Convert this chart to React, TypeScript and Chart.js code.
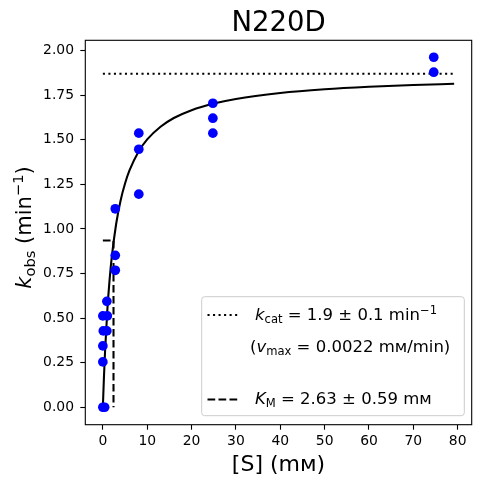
import React, { useEffect, useRef } from "react";
import { Chart, registerables } from "chart.js";

Chart.register(...registerables);

// ---- data ----
const substrateMM = [0, 0.4, 0, 0, 0.1, 0.9, 0, 1.0, 0.9, 2.8, 2.8, 2.8, 8.1, 8.1, 8.1, 24.8, 24.8, 24.8, 74.6, 74.6];
const kobsPerMin = [0, 0, 0.254, 0.344, 0.428, 0.428, 0.512, 0.512, 0.594, 0.768, 0.852, 1.113, 1.195, 1.447, 1.537, 1.537, 1.621, 1.705, 1.879, 1.963];

const fitSubstrateMM = [0, 0.25, 0.5, 1, 1.5, 2, 3, 4, 5, 6, 8, 10, 13, 16, 20, 25, 30, 40, 50, 60, 70, 79.2];
const fitKobs = [0, 0.173, 0.317, 0.542, 0.71, 0.84, 1.029, 1.16, 1.255, 1.328, 1.432, 1.502, 1.573, 1.622, 1.666, 1.703, 1.729, 1.762, 1.783, 1.797, 1.807, 1.814];

const kcatLevel = 1.87;
const halfKcatLevel = 0.935;
const kmMarkerMM = 2.4;
const lineStartMM = 0;
const lineEndMM = 79.2;

const xTickValues = [0, 10, 20, 30, 40, 50, 60, 70, 80];
const yTickValues = [0, 0.25, 0.5, 0.75, 1.0, 1.25, 1.5, 1.75, 2.0];
const xLimits = [-3.96, 83.16];
const yLimits = [-0.098, 2.058];

const titleText = "N220D";
const xAxisText = "[S] (m\u1D0D)";

const FONT = '"DejaVu Sans", "Noto Sans", sans-serif';

type Run = { t: string; size: number; italic?: boolean; dy?: number };

function setFont(ctx: CanvasRenderingContext2D, r: Run) {
  ctx.font = `${r.italic ? "italic " : ""}${r.size}px ${FONT}`;
}
function runsWidth(ctx: CanvasRenderingContext2D, runs: Run[]) {
  let w = 0;
  for (const r of runs) {
    setFont(ctx, r);
    w += ctx.measureText(r.t).width;
  }
  return w;
}
function drawRuns(ctx: CanvasRenderingContext2D, runs: Run[], x: number, y: number) {
  let cx = x;
  for (const r of runs) {
    setFont(ctx, r);
    ctx.fillText(r.t, cx, y + (r.dy || 0));
    cx += ctx.measureText(r.t).width;
  }
}

const main = (t: string, s: number, italic = false): Run => ({ t, size: s, italic });
const sub = (t: string, s: number): Run => ({ t, size: s * 0.7, dy: s * 0.2 });
const sup = (t: string, s: number): Run => ({ t, size: s * 0.7, dy: -s * 0.37 });

const overlayPlugin = {
  id: "overlay",
  afterDatasetsDraw(chart: any) {
    const { ctx, chartArea } = chart;
    ctx.save();
    ctx.strokeStyle = "#000";
    ctx.lineWidth = 1.1;
    ctx.strokeRect(chartArea.left, chartArea.top, chartArea.right - chartArea.left, chartArea.bottom - chartArea.top);
    ctx.restore();
  },
  afterDraw(chart: any) {
    const { ctx, chartArea } = chart;
    const cx = (chartArea.left + chartArea.right) / 2;
    ctx.save();
    ctx.fillStyle = "#000";
    ctx.textBaseline = "alphabetic";
    ctx.textAlign = "left";

    // title
    const tr = [main(titleText, 27.5)];
    drawRuns(ctx, tr, cx - runsWidth(ctx, tr) / 2, 30.7);

    // x axis title
    const xr = [main(xAxisText, 22)];
    drawRuns(ctx, xr, cx - runsWidth(ctx, xr) / 2, 471);

    // y axis title (rotated)
    const ys = 21;
    const yr = [main("k", ys, true), sub("obs", ys), main(" (min", ys), sup("\u22121", ys), main(")", ys)];
    const yw = runsWidth(ctx, yr);
    ctx.save();
    ctx.translate(30.5, 227.5);
    ctx.rotate(-Math.PI / 2);
    drawRuns(ctx, yr, -yw / 2, 0);
    ctx.restore();

    // legend box
    const lx = 201.7, ly = 296.7, lw = 464.3 - 201.7, lh = 415.7 - 296.7;
    ctx.beginPath();
    ctx.roundRect(lx, ly, lw, lh, 3);
    ctx.fillStyle = "rgba(255,255,255,0.8)";
    ctx.fill();
    ctx.strokeStyle = "#cccccc";
    ctx.lineWidth = 1;
    ctx.stroke();

    // handles
    ctx.strokeStyle = "#000";
    ctx.lineWidth = 2.08;
    ctx.lineCap = "butt";
    ctx.setLineDash([2.08, 3.44]);
    ctx.beginPath();
    ctx.moveTo(207.5, 315);
    ctx.lineTo(237.5, 315);
    ctx.stroke();
    ctx.setLineDash([7.7, 3.3]);
    ctx.beginPath();
    ctx.moveTo(207.5, 399.5);
    ctx.lineTo(237.5, 399.5);
    ctx.stroke();
    ctx.setLineDash([]);

    // legend texts
    ctx.fillStyle = "#000";
    const fs = 16.5;
    drawRuns(ctx, [main("k", fs, true), sub("cat", fs), main(" = 1.9 \u00B1 0.1 min", fs), sup("\u22121", fs)], 255, 320);
    drawRuns(ctx, [main("(", fs), main("v", fs, true), sub("max", fs), main(" = 0.0022 m\u1D0D/min)", fs)], 250, 351.5);
    drawRuns(ctx, [main("K", fs, true), sub("M", fs), main(" = 2.63 \u00B1 0.59 m\u1D0D", fs)], 255, 404);

    ctx.restore();
  },
};

export default function App() {
  const ref = useRef<HTMLCanvasElement | null>(null);

  useEffect(() => {
    const canvas = ref.current;
    if (!canvas) return;
    const tickFont = { family: FONT, size: 13.9 };
    const chart = new Chart(canvas, {
      type: "scatter",
      data: {
        datasets: [
          {
            label: "data",
            data: substrateMM.map((x, i) => ({ x, y: kobsPerMin[i] })),
            pointRadius: 4.85,
            pointBackgroundColor: "#0000ff",
            pointBorderColor: "#0000ff",
            pointBorderWidth: 0,
            showLine: false,
            order: 0,
          },
          {
            label: "fit",
            data: fitSubstrateMM.map((x, i) => ({ x, y: fitKobs[i] })),
            showLine: true,
            borderColor: "#000",
            borderWidth: 2.08,
            pointRadius: 0,
            cubicInterpolationMode: "monotone",
            order: 1,
          },
          {
            label: "kcat",
            data: [
              { x: lineStartMM, y: kcatLevel },
              { x: lineEndMM, y: kcatLevel },
            ],
            showLine: true,
            borderColor: "#000",
            borderWidth: 2.08,
            borderDash: [2.08, 3.44],
            pointRadius: 0,
            order: 2,
          },
          {
            label: "KM",
            data: [
              { x: lineStartMM, y: halfKcatLevel },
              { x: kmMarkerMM, y: halfKcatLevel },
              { x: kmMarkerMM, y: 0 },
            ],
            showLine: true,
            borderColor: "#000",
            borderWidth: 2.08,
            borderDash: [7.7, 3.3],
            pointRadius: 0,
            order: 3,
          },
        ],
      } as any,
      options: {
        responsive: false,
        animation: false,
        events: [],
        layout: { padding: { top: 40.3, right: 10.3, left: 0, bottom: 0 } },
        plugins: {
          legend: { display: false },
          title: { display: false },
          tooltip: { enabled: false },
        },
        scales: {
          x: {
            type: "linear",
            min: xLimits[0],
            max: xLimits[1],
            afterBuildTicks: (s: any) => {
              s.ticks = xTickValues.map((v) => ({ value: v }));
            },
            afterFit: (s: any) => {
              s.height = 484 - 424.7;
            },
            grid: { drawOnChartArea: false, drawTicks: true, tickLength: 5, tickWidth: 1.1, tickColor: "#000" },
            border: { display: false },
            ticks: {
              color: "#000",
              font: tickFont,
              padding: 3,
              maxRotation: 0,
              autoSkip: false,
              callback: (v: any) => String(v),
            },
          },
          y: {
            type: "linear",
            min: yLimits[0],
            max: yLimits[1],
            afterBuildTicks: (s: any) => {
              s.ticks = yTickValues.map((v) => ({ value: v }));
            },
            afterFit: (s: any) => {
              s.width = 85.3;
            },
            grid: { drawOnChartArea: false, drawTicks: true, tickLength: 5, tickWidth: 1.1, tickColor: "#000" },
            border: { display: false },
            ticks: {
              color: "#000",
              font: tickFont,
              padding: 6.3,
              autoSkip: false,
              callback: (v: any) => Number(v).toFixed(2),
            },
          },
        },
      } as any,
      plugins: [overlayPlugin],
    });
    return () => chart.destroy();
  }, []);

  return (
    <div style={{ position: "absolute", left: 0, top: 0, width: 482, height: 484, background: "#fff" }}>
      <canvas ref={ref} width={482} height={484} style={{ display: "block", width: 482, height: 484 }} />
    </div>
  );
}
